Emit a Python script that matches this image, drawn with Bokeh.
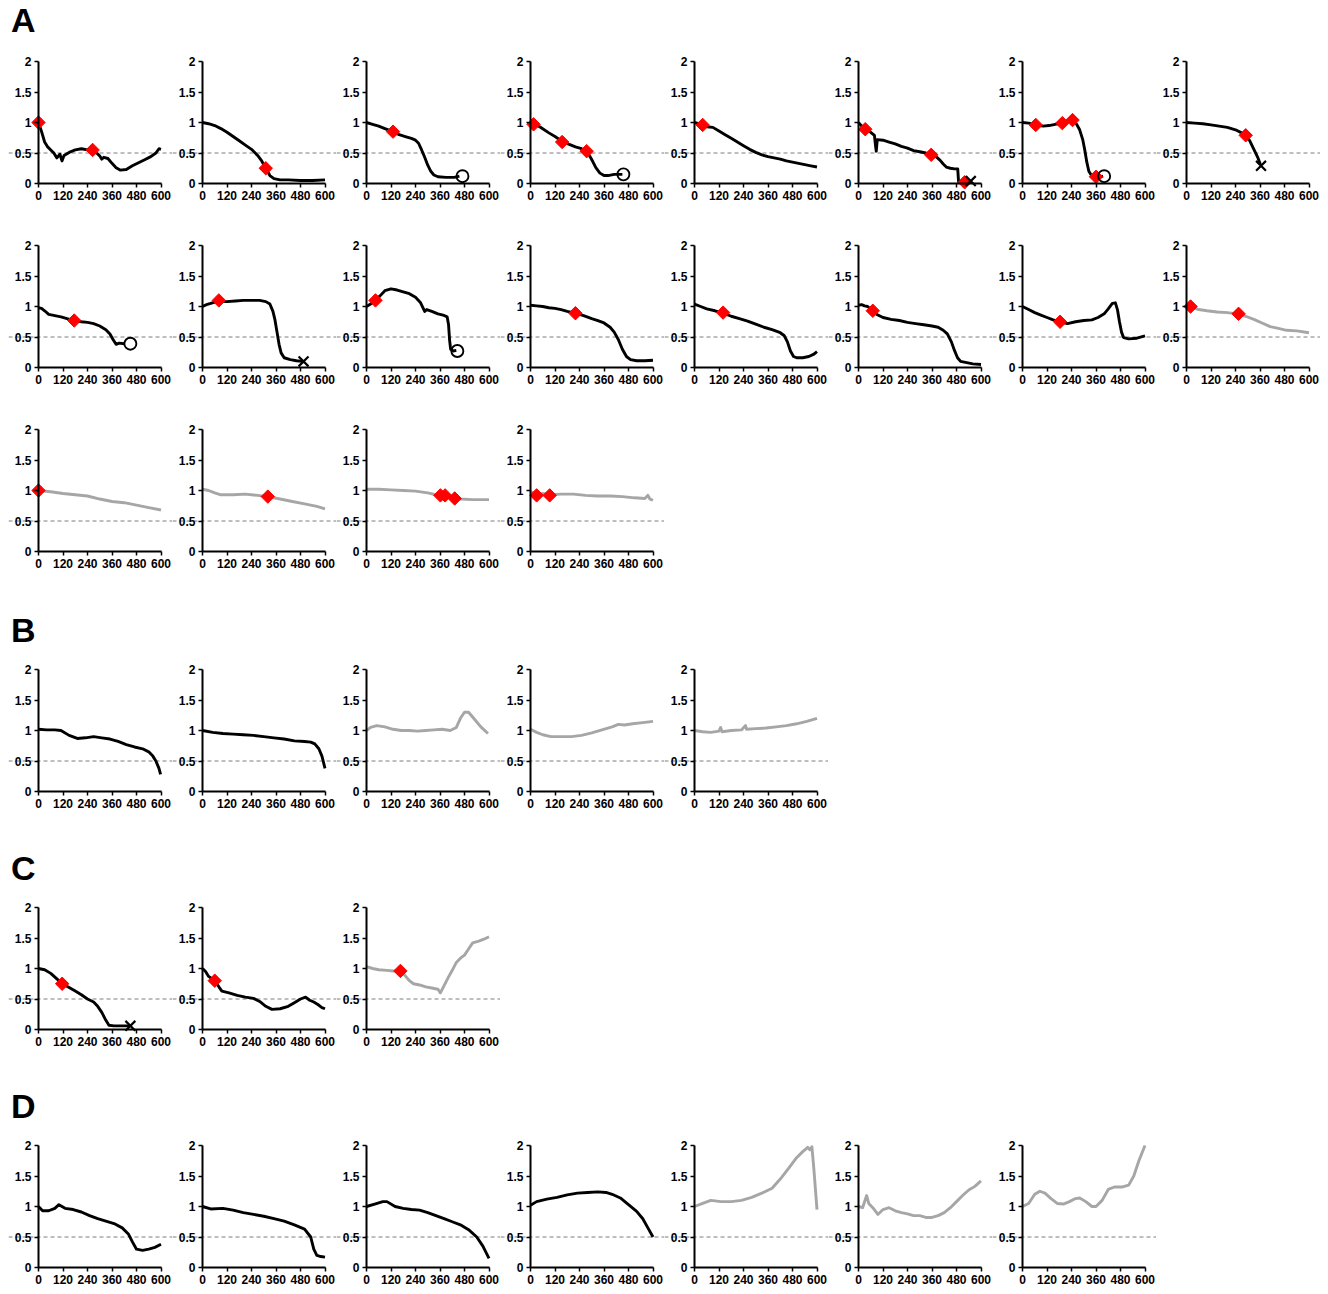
import math
from bokeh.plotting import figure
from bokeh.models import FixedTicker, Span, Div
from bokeh.layouts import column, row
from bokeh.embed import file_html
from bokeh.resources import INLINE

# ---------------- data (time in s, normalized value) ----------------
X_TICKS = [0, 120, 240, 360, 480, 600]
Y_TICKS = [0, 0.5, 1, 1.5, 2]
Y_LABELS = ["0", "0.5", "1", "1.5", "2"]
THRESHOLD = 0.5

a01_t = [0, 15, 30, 45, 60, 75, 90, 105, 115, 125, 150, 180, 210, 240, 265, 285, 300, 310, 320, 340, 360, 380, 400, 430, 460, 490, 520, 550, 575, 590, 600]
a01_v = [1.0, 0.85, 0.68, 0.6, 0.55, 0.5, 0.42, 0.48, 0.37, 0.46, 0.51, 0.55, 0.57, 0.55, 0.55, 0.5, 0.45, 0.4, 0.43, 0.41, 0.33, 0.26, 0.22, 0.23, 0.29, 0.34, 0.39, 0.44, 0.5, 0.57, 0.56]
a01_dt = [0, 265]; a01_dv = [1.0, 0.55]

a02_t = [0, 30, 60, 90, 120, 150, 180, 210, 240, 270, 290, 310, 330, 350, 380, 420, 480, 540, 600]
a02_v = [1.0, 0.98, 0.95, 0.9, 0.84, 0.77, 0.7, 0.63, 0.56, 0.46, 0.37, 0.25, 0.13, 0.08, 0.06, 0.06, 0.05, 0.05, 0.06]
a02_dt = [310]; a02_dv = [0.25]

a03_t = [0, 30, 60, 90, 130, 160, 190, 220, 240, 255, 270, 285, 300, 315, 330, 350, 390, 430, 455]
a03_v = [1.0, 0.97, 0.94, 0.9, 0.85, 0.8, 0.77, 0.74, 0.71, 0.66, 0.55, 0.43, 0.3, 0.2, 0.14, 0.11, 0.1, 0.1, 0.12]
a03_dt = [130]; a03_dv = [0.85]
a03_end = ("o", 470, 0.12)

a04_t = [0, 15, 45, 90, 120, 155, 190, 220, 250, 275, 290, 305, 320, 340, 360, 380, 410, 450]
a04_v = [1.0, 0.97, 0.93, 0.83, 0.77, 0.69, 0.64, 0.6, 0.57, 0.53, 0.45, 0.36, 0.26, 0.17, 0.13, 0.13, 0.15, 0.15]
a04_dt = [15, 155, 275]; a04_dv = [0.97, 0.68, 0.53]
a04_end = ("o", 455, 0.15)

a05_t = [0, 20, 40, 60, 90, 120, 150, 180, 210, 240, 270, 300, 330, 360, 390, 420, 450, 480, 510, 540, 570, 600]
a05_v = [1.0, 0.98, 0.96, 0.93, 0.92, 0.86, 0.8, 0.74, 0.68, 0.62, 0.56, 0.51, 0.47, 0.44, 0.42, 0.4, 0.37, 0.35, 0.33, 0.31, 0.29, 0.27]
a05_dt = [40]; a05_dv = [0.96]

a06_t = [0, 10, 33, 60, 78, 84, 87, 92, 120, 150, 180, 210, 240, 270, 300, 330, 356, 380, 400, 415, 430, 450, 470, 486, 490, 520]
a06_v = [1.0, 0.96, 0.89, 0.84, 0.79, 0.6, 0.53, 0.72, 0.71, 0.68, 0.65, 0.61, 0.58, 0.54, 0.52, 0.5, 0.47, 0.44, 0.38, 0.32, 0.27, 0.25, 0.24, 0.24, 0.03, 0.02]
a06_dt = [33, 356, 520]; a06_dv = [0.89, 0.47, 0.02]
a06_end = ("x", 550, 0.04)

a07_t = [0, 30, 65, 100, 130, 160, 195, 230, 250, 265, 280, 295, 305, 315, 325, 340, 360, 380, 395]
a07_v = [1.0, 0.99, 0.96, 0.94, 0.95, 0.97, 0.99, 1.03, 1.02, 0.97, 0.88, 0.72, 0.55, 0.35, 0.2, 0.12, 0.11, 0.11, 0.12]
a07_dt = [65, 195, 245, 360]; a07_dv = [0.96, 0.99, 1.04, 0.11]
a07_end = ("o", 400, 0.12)

a08_t = [0, 40, 80, 120, 160, 200, 240, 270, 290, 310, 330, 350, 362]
a08_v = [1.0, 0.99, 0.98, 0.96, 0.94, 0.92, 0.88, 0.83, 0.79, 0.7, 0.56, 0.42, 0.31]
a08_dt = [290]; a08_dv = [0.79]
a08_end = ("x", 365, 0.29)

a09_t = [0, 15, 30, 50, 80, 110, 140, 175, 210, 240, 270, 300, 330, 350, 365, 380, 395, 420]
a09_v = [0.98, 0.97, 0.93, 0.87, 0.85, 0.83, 0.8, 0.77, 0.75, 0.74, 0.72, 0.68, 0.62, 0.55, 0.46, 0.38, 0.4, 0.39]
a09_dt = [175]; a09_dv = [0.77]
a09_end = ("o", 450, 0.39)

a10_t = [0, 20, 40, 80, 120, 160, 200, 240, 280, 310, 330, 345, 355, 365, 375, 385, 400, 430, 460, 490]
a10_v = [1.0, 1.03, 1.05, 1.09, 1.08, 1.09, 1.1, 1.1, 1.1, 1.08, 1.04, 0.92, 0.78, 0.58, 0.38, 0.24, 0.16, 0.13, 0.11, 0.1]
a10_dt = [80]; a10_dv = [1.1]
a10_end = ("x", 495, 0.1)

a11_t = [0, 20, 44, 65, 90, 120, 150, 180, 210, 240, 265, 285, 295, 320, 350, 375, 395, 402, 407, 412, 425, 440]
a11_v = [1.0, 1.04, 1.1, 1.17, 1.26, 1.29, 1.27, 1.24, 1.21, 1.15, 1.06, 0.92, 0.95, 0.92, 0.88, 0.86, 0.83, 0.7, 0.45, 0.3, 0.27, 0.28]
a11_dt = [44]; a11_dv = [1.1]
a11_end = ("o", 445, 0.27)

a12_t = [0, 30, 60, 90, 120, 150, 180, 220, 260, 300, 330, 360, 390, 410, 430, 450, 470, 490, 520, 560, 600]
a12_v = [1.02, 1.01, 1.0, 0.98, 0.97, 0.95, 0.92, 0.89, 0.85, 0.8, 0.77, 0.73, 0.66, 0.58, 0.46, 0.3, 0.18, 0.13, 0.11, 0.11, 0.12]
a12_dt = [220]; a12_dv = [0.89]

a13_t = [0, 30, 60, 100, 140, 180, 220, 260, 300, 340, 380, 420, 440, 455, 470, 485, 500, 530, 560, 585, 600]
a13_v = [1.04, 1.0, 0.96, 0.93, 0.89, 0.84, 0.8, 0.76, 0.71, 0.66, 0.62, 0.57, 0.52, 0.42, 0.27, 0.18, 0.16, 0.16, 0.18, 0.22, 0.26]
a13_dt = [140]; a13_dv = [0.9]

a14_t = [0, 15, 30, 45, 70, 90, 120, 160, 200, 240, 280, 320, 360, 390, 415, 435, 455, 470, 485, 500, 530, 560, 600]
a14_v = [1.02, 1.03, 1.01, 1.0, 0.93, 0.87, 0.82, 0.79, 0.77, 0.74, 0.72, 0.7, 0.68, 0.66, 0.61, 0.55, 0.42, 0.28, 0.16, 0.1, 0.08, 0.06, 0.05]
a14_dt = [70]; a14_dv = [0.93]

a15_t = [0, 30, 60, 90, 120, 150, 184, 220, 260, 300, 340, 370, 400, 420, 440, 455, 465, 475, 485, 495, 520, 560, 600]
a15_v = [1.0, 0.95, 0.9, 0.86, 0.82, 0.78, 0.75, 0.72, 0.75, 0.77, 0.78, 0.82, 0.88, 0.96, 1.05, 1.06, 0.95, 0.75, 0.58, 0.49, 0.47, 0.48, 0.52]
a15_dt = [184]; a15_dv = [0.75]

a16_t = [0, 30, 60, 100, 150, 200, 250, 290, 330, 370, 410, 450, 490, 540, 600]
a16_v = [1.0, 0.98, 0.95, 0.93, 0.91, 0.9, 0.88, 0.84, 0.79, 0.73, 0.67, 0.64, 0.61, 0.6, 0.57]
a16_dt = [20, 255]; a16_dv = [1.0, 0.88]

a17_t = [0, 60, 120, 180, 240, 300, 360, 420, 480, 540, 600]
a17_v = [1.0, 0.98, 0.95, 0.93, 0.91, 0.86, 0.82, 0.8, 0.76, 0.72, 0.68]
a17_dt = [0]; a17_dv = [1.0]

a18_t = [0, 30, 60, 90, 150, 210, 270, 320, 380, 440, 500, 560, 600]
a18_v = [1.02, 1.0, 0.96, 0.93, 0.93, 0.94, 0.92, 0.9, 0.86, 0.82, 0.78, 0.74, 0.7]
a18_dt = [320]; a18_dv = [0.9]

a19_t = [0, 60, 120, 180, 240, 300, 340, 380, 420, 460, 520, 600]
a19_v = [1.02, 1.02, 1.01, 1.0, 0.99, 0.96, 0.93, 0.91, 0.88, 0.86, 0.85, 0.85]
a19_dt = [362, 385, 432]; a19_dv = [0.92, 0.92, 0.87]

a20_t = [0, 30, 60, 94, 150, 210, 270, 330, 390, 450, 510, 560, 575, 585, 600]
a20_v = [0.98, 0.94, 0.95, 0.93, 0.94, 0.94, 0.92, 0.91, 0.91, 0.9, 0.88, 0.87, 0.92, 0.86, 0.84]
a20_dt = [30, 94]; a20_dv = [0.92, 0.92]

b1_t = [0, 40, 80, 110, 150, 190, 230, 270, 310, 350, 390, 430, 470, 510, 540, 560, 575, 590, 598]
b1_v = [1.02, 1.01, 1.01, 1.0, 0.92, 0.87, 0.88, 0.9, 0.88, 0.86, 0.82, 0.77, 0.73, 0.7, 0.65, 0.58, 0.5, 0.38, 0.28]
b2_t = [0, 50, 100, 150, 200, 250, 300, 350, 400, 450, 500, 530, 550, 570, 585, 600]
b2_v = [1.0, 0.97, 0.95, 0.94, 0.93, 0.92, 0.9, 0.88, 0.86, 0.83, 0.82, 0.81, 0.78, 0.7, 0.58, 0.38]
b3_t = [0, 20, 50, 90, 130, 170, 210, 250, 290, 330, 370, 410, 440, 460, 480, 500, 530, 560, 595]
b3_v = [1.0, 1.05, 1.08, 1.06, 1.02, 1.0, 1.0, 0.99, 1.0, 1.01, 1.02, 1.0, 1.05, 1.2, 1.3, 1.3, 1.18, 1.06, 0.95]
b4_t = [0, 30, 60, 100, 150, 200, 250, 300, 350, 400, 430, 460, 500, 550, 600]
b4_v = [1.02, 0.97, 0.93, 0.9, 0.9, 0.9, 0.92, 0.96, 1.01, 1.06, 1.1, 1.09, 1.11, 1.13, 1.15]
b5_t = [0, 40, 80, 120, 128, 135, 180, 230, 250, 255, 300, 350, 400, 450, 500, 550, 600]
b5_v = [1.0, 0.98, 0.97, 0.99, 1.05, 0.98, 1.0, 1.01, 1.08, 1.02, 1.03, 1.04, 1.06, 1.08, 1.11, 1.15, 1.2]

c1_t = [0, 30, 60, 90, 116, 150, 180, 210, 240, 270, 290, 310, 330, 345, 370, 410, 445]
c1_v = [1.0, 0.98, 0.92, 0.83, 0.75, 0.69, 0.63, 0.57, 0.5, 0.45, 0.38, 0.28, 0.15, 0.07, 0.06, 0.06, 0.06]
c1_dt = [116]; c1_dv = [0.75]
c1_end = ("x", 450, 0.06)
c2_t = [0, 15, 30, 60, 80, 95, 130, 170, 210, 250, 280, 310, 340, 380, 420, 450, 480, 505, 525, 545, 565, 585, 600]
c2_v = [1.0, 0.95, 0.87, 0.8, 0.7, 0.63, 0.6, 0.56, 0.53, 0.51, 0.46, 0.38, 0.33, 0.34, 0.38, 0.44, 0.5, 0.53, 0.48, 0.45, 0.41, 0.36, 0.34]
c2_dt = [60]; c2_dv = [0.8]
c3_t = [0, 30, 60, 100, 130, 166, 190, 210, 230, 260, 290, 320, 350, 362, 380, 400, 420, 440, 460, 480, 500, 520, 550, 575, 600]
c3_v = [1.03, 1.0, 0.98, 0.97, 0.96, 0.96, 0.88, 0.8, 0.75, 0.73, 0.7, 0.68, 0.66, 0.6, 0.72, 0.85, 0.97, 1.1, 1.17, 1.22, 1.32, 1.42, 1.45, 1.48, 1.52]
c3_dt = [166]; c3_dv = [0.96]

d1_t = [0, 20, 50, 80, 100, 130, 170, 210, 250, 290, 330, 370, 410, 440, 460, 480, 510, 540, 570, 600]
d1_v = [1.0, 0.93, 0.93, 0.97, 1.03, 0.97, 0.95, 0.91, 0.85, 0.8, 0.76, 0.72, 0.65, 0.55, 0.42, 0.3, 0.28, 0.3, 0.33, 0.38]
d2_t = [0, 40, 100, 150, 200, 250, 300, 350, 400, 450, 500, 530, 545, 560, 580, 600]
d2_v = [1.0, 0.96, 0.97, 0.94, 0.9, 0.87, 0.84, 0.8, 0.76, 0.7, 0.63, 0.5, 0.3, 0.2, 0.18, 0.17]
d3_t = [0, 40, 80, 100, 140, 180, 220, 260, 300, 340, 380, 420, 460, 500, 540, 570, 600]
d3_v = [1.0, 1.04, 1.08, 1.08, 1.0, 0.97, 0.95, 0.94, 0.9, 0.85, 0.8, 0.75, 0.7, 0.62, 0.5, 0.35, 0.15]
d4_t = [0, 30, 80, 130, 180, 230, 280, 330, 370, 400, 440, 480, 520, 550, 575, 600]
d4_v = [1.02, 1.08, 1.12, 1.15, 1.19, 1.22, 1.23, 1.24, 1.23, 1.2, 1.14, 1.03, 0.92, 0.8, 0.65, 0.5]
d5_t = [0, 40, 80, 130, 180, 230, 280, 330, 380, 420, 460, 500, 530, 555, 565, 575, 585, 600]
d5_v = [1.0, 1.05, 1.1, 1.08, 1.08, 1.1, 1.15, 1.22, 1.3, 1.45, 1.62, 1.8, 1.9, 1.97, 1.93, 1.98, 1.6, 0.95]
d6_t = [0, 20, 40, 50, 70, 95, 120, 150, 180, 210, 240, 270, 300, 330, 360, 390, 420, 450, 480, 510, 540, 570, 600]
d6_v = [1.0, 0.98, 1.18, 1.05, 0.98, 0.87, 0.95, 0.98, 0.93, 0.9, 0.88, 0.85, 0.85, 0.82, 0.82, 0.85, 0.9, 0.98, 1.08, 1.18, 1.27, 1.33, 1.42]
d7_t = [0, 30, 60, 85, 110, 140, 170, 200, 230, 260, 280, 310, 340, 360, 390, 420, 450, 490, 520, 545, 570, 600]
d7_v = [1.0, 1.05, 1.2, 1.25, 1.22, 1.13, 1.05, 1.04, 1.08, 1.13, 1.14, 1.08, 1.0, 1.0, 1.1, 1.28, 1.32, 1.32, 1.35, 1.5, 1.75, 2.0]

# ---------------- styling / layout ----------------
BLACK = "#000000"
GRAY = "#a6a6a6"
FONT = "Liberation Sans"
PW = 164            # panel pitch (px)
AX_PX = 30          # y axis offset inside panel (px)
SPAN_PX = 122.5     # pixels for 0..600 s
FRAME_H = 122       # pixels for 0..2
UNIT = 600.0 / SPAN_PX
XR = (-AX_PX * UNIT, (PW - AX_PX) * UNIT)
YU = 2.0 / FRAME_H


def panel(t, v, color, dt=None, dv=None, end=None, top=12, bottom=50):
    h = top + FRAME_H + bottom
    p = figure(width=PW, height=h, x_range=XR,
               y_range=(-bottom * YU, 2 + top * YU),
               output_backend="svg", toolbar_location=None,
               min_border_left=0, min_border_right=0,
               min_border_top=0, min_border_bottom=0)
    p.outline_line_color = None
    p.background_fill_color = "white"
    p.border_fill_color = "white"
    p.grid.visible = False
    p.add_layout(Span(location=THRESHOLD, dimension="width", line_color="#7f7f7f",
                      line_width=1, line_dash="4 3", level="underlay"))
    p.line(t, v, line_color=color, line_width=2.9, line_join="round")
    if dt:
        p.scatter(dt, dv, marker="square", angle=math.pi / 4, size=9.5,
                  fill_color="#ff0000", line_color="#ff0000")
    if end:
        kind, et, ev = end
        if kind == "o":
            p.scatter([et], [ev], marker="circle", size=12, fill_color=None,
                      line_color="black", line_width=1.9)
        else:
            p.scatter([et], [ev], marker="x", size=14, line_color="black", line_width=2.2)

    xa = p.xaxis[0]
    xa.ticker = FixedTicker(ticks=X_TICKS)
    xa.bounds = (0, 600)
    xa.fixed_location = 0
    ya = p.yaxis[0]
    ya.ticker = FixedTicker(ticks=Y_TICKS)
    ya.major_label_overrides = {float(k): s for k, s in zip(Y_TICKS, Y_LABELS)}
    ya.bounds = (0, 2)
    ya.fixed_location = 0
    for ax in (xa, ya):
        ax.axis_line_width = 2
        ax.axis_line_color = "black"
        ax.major_tick_in = 0
        ax.major_tick_out = 4
        ax.major_tick_line_width = 1.5
        ax.minor_tick_line_color = None
        ax.major_label_text_font = FONT
        ax.major_label_text_font_style = "bold"
        ax.major_label_text_font_size = "12px"
        ax.major_label_text_color = "black"
        ax.major_label_standoff = 3
    return p


def label(txt, h, off):
    return Div(text=('<div style="position:relative;top:%dpx;left:3px;font-family:%s;'
                     'font-weight:bold;font-size:34px;line-height:34px;color:black">%s</div>')
               % (off, FONT, txt), width=120, height=h, margin=0)


rowA1 = row(
    panel(a01_t, a01_v, BLACK, a01_dt, a01_dv),
    panel(a02_t, a02_v, BLACK, a02_dt, a02_dv),
    panel(a03_t, a03_v, BLACK, a03_dt, a03_dv, a03_end),
    panel(a04_t, a04_v, BLACK, a04_dt, a04_dv, a04_end),
    panel(a05_t, a05_v, BLACK, a05_dt, a05_dv),
    panel(a06_t, a06_v, BLACK, a06_dt, a06_dv, a06_end),
    panel(a07_t, a07_v, BLACK, a07_dt, a07_dv, a07_end),
    panel(a08_t, a08_v, BLACK, a08_dt, a08_dv, a08_end),
)
rowA2 = row(
    panel(a09_t, a09_v, BLACK, a09_dt, a09_dv, a09_end),
    panel(a10_t, a10_v, BLACK, a10_dt, a10_dv, a10_end),
    panel(a11_t, a11_v, BLACK, a11_dt, a11_dv, a11_end),
    panel(a12_t, a12_v, BLACK, a12_dt, a12_dv),
    panel(a13_t, a13_v, BLACK, a13_dt, a13_dv),
    panel(a14_t, a14_v, BLACK, a14_dt, a14_dv),
    panel(a15_t, a15_v, BLACK, a15_dt, a15_dv),
    panel(a16_t, a16_v, GRAY, a16_dt, a16_dv),
)
rowA3 = row(
    panel(a17_t, a17_v, GRAY, a17_dt, a17_dv),
    panel(a18_t, a18_v, GRAY, a18_dt, a18_dv),
    panel(a19_t, a19_v, GRAY, a19_dt, a19_dv),
    panel(a20_t, a20_v, GRAY, a20_dt, a20_dv),
)
rowB = row(
    panel(b1_t, b1_v, BLACK),
    panel(b2_t, b2_v, BLACK),
    panel(b3_t, b3_v, GRAY),
    panel(b4_t, b4_v, GRAY),
    panel(b5_t, b5_v, GRAY),
)
rowC = row(
    panel(c1_t, c1_v, BLACK, c1_dt, c1_dv, c1_end),
    panel(c2_t, c2_v, BLACK, c2_dt, c2_dv),
    panel(c3_t, c3_v, GRAY, c3_dt, c3_dv),
)
rowD = row(
    panel(d1_t, d1_v, BLACK, bottom=26),
    panel(d2_t, d2_v, BLACK, bottom=26),
    panel(d3_t, d3_v, BLACK, bottom=26),
    panel(d4_t, d4_v, BLACK, bottom=26),
    panel(d5_t, d5_v, GRAY, bottom=26),
    panel(d6_t, d6_v, GRAY, bottom=26),
    panel(d7_t, d7_v, GRAY, bottom=26),
)

layout = column(
    label("A", 49, 3), rowA1, rowA2, rowA3,
    label("B", 56, 12), rowB,
    label("C", 54, 10), rowC,
    label("D", 54, 10), rowD,
    margin=(0, 0, 0, 8),
)

open("out.html", "w").write(file_html(layout, INLINE, "Traces"))
